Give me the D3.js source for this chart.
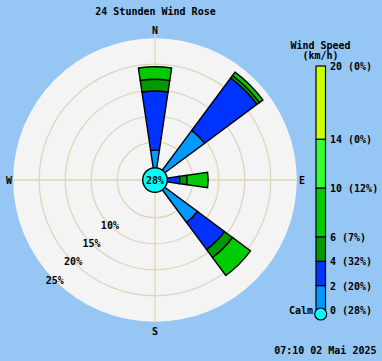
<!DOCTYPE html>
<html><head><meta charset="utf-8">
<script src="https://cdn.jsdelivr.net/npm/d3@7"></script>
<style>
html,body{margin:0;padding:0;background:#96c7f4;}
svg{display:block;}
text{font-family:"DejaVu Sans Mono","Liberation Mono",monospace;font-weight:bold;font-size:10px;fill:#000;}
</style></head>
<body>
<svg id="chart" width="382" height="361"></svg>
<script>
// ---- data ----
const title = "24 Stunden Wind Rose";
const dateLabel = "07:10 02 Mai 2025";
const directions = ["N","NNE","NE","ENE","E","ESE","SE","SSE","S","SSW","SW","WSW","W","WNW","NW","NNW"];
const speedClasses = ["0-2","2-4","4-6","6-10","10-14","14-20"];
const band0_2   = [3.5, 0, 9.6, 0, 0,    0, 7.9, 0, 0,0,0,0,0,0,0,0];
const band2_4   = [11.35,0,12.55,0,2.5,  0, 6.5, 0, 0,0,0,0,0,0,0,0];
const band4_6   = [2.25,0, 0.6, 0, 1.4,  0, 1.9, 0, 0,0,0,0,0,0,0,0];
const band6_10  = [2.4, 0, 0.8, 0, 4.05, 0, 4.3, 0, 0,0,0,0,0,0,0,0];
const band10_14 = [0,0,0,0,0,0,0,0,0,0,0,0,0,0,0,0];
const band14_20 = [0,0,0,0,0,0,0,0,0,0,0,0,0,0,0,0];
const calmPct = 28;
const ringValues = [5,10,15,20,25];
const ringLabels = ["","10%","15%","20%","25%"];
const compassLabels = ["N","E","S","W"];
const speedTicks = [0,2,4,6,10,14,20];
const speedTickPct = [28,20,32,7,12,0,0];
const bandColors = ["#0099ff","#0033ff","#009900","#00cc00","#33ff33","#ccff00"];

// ---- drawing ----
const svg = d3.select("#chart");
const cx = 155, cy = 180;
const r = d3.scaleLinear().domain([0,25]).range([11.8,141.8]);
const ang = d3.scaleBand().domain(directions).range([0, 2*Math.PI]);
const half = (2*Math.PI/16)*0.375;

svg.append("text").attr("x",155.5).attr("y",11).attr("text-anchor","middle")
  .attr("dominant-baseline","central").text(title);

const g = svg.append("g").attr("transform",`translate(${cx},${cy})`);
g.append("circle").attr("r", r(25)).attr("fill","#f4f4f4");
g.selectAll("circle.ring").data(ringValues.slice(0,-1)).join("circle")
  .attr("class","ring").attr("r",d=>r(d)).attr("fill","none")
  .attr("stroke","#ddd6bb").attr("stroke-width",1.3);
g.append("line").attr("x1",-r(25)).attr("x2",r(25)).attr("stroke","#ddd6bb").attr("stroke-width",1.3);
g.append("line").attr("y1",-r(25)-4).attr("y2",r(25)).attr("stroke","#ddd6bb").attr("stroke-width",1.3);

// petals
const bands = [band0_2,band2_4,band4_6,band6_10,band10_14,band14_20];
const arc = d3.arc();
const segs = [];
directions.forEach((dname,i)=>{
  let cum = 0;
  bands.forEach((b,k)=>{
    const v = b[i];
    if (v > 0) {
      segs.push({dir:dname, inner: cum===0?0:r(cum), outer: r(cum+v), color: bandColors[k]});
    }
    cum += v;
  });
});
g.selectAll("path.seg").data(segs).join("path").attr("class","seg")
  .attr("d", d => {
    const a = (ang(d.dir));
    return arc({innerRadius:d.inner, outerRadius:d.outer, startAngle:a-half, endAngle:a+half});
  })
  .attr("fill", d=>d.color).attr("stroke","#000").attr("stroke-width",1.4)
  .attr("stroke-linejoin","miter");

// ring labels at SW
const sw = 5*Math.PI/4;
g.selectAll("text.rl").data(ringValues.map((v,i)=>({v,l:ringLabels[i]})).filter(d=>d.l)).join("text")
  .attr("class","rl")
  .attr("x",d=>r(d.v)*Math.sin(sw)).attr("y",d=>-r(d.v)*Math.cos(sw))
  .attr("text-anchor","middle").attr("dominant-baseline","central").text(d=>d.l);

// calm circle
g.append("circle").attr("r",12.3).attr("fill","#00ffff").attr("stroke","#000").attr("stroke-width",1.4);
g.append("text").attr("text-anchor","middle").attr("dominant-baseline","central").attr("y",0.5).text(calmPct+"%");

// compass labels
const compPos = [[0,-150],[147,0.5],[0,151],[-146,0]];
compassLabels.forEach((c,i)=>{
  g.append("text").attr("x",compPos[i][0]).attr("y",compPos[i][1])
    .attr("text-anchor","middle").attr("dominant-baseline","central").text(c);
});

// legend
const ly = d3.scaleLinear().domain([0,20]).range([310,66]);
const barX = 316, barW = 9.5;
svg.append("text").attr("x",320.5).attr("y",45).attr("text-anchor","middle").attr("dominant-baseline","central").text("Wind Speed");
svg.append("text").attr("x",320.5).attr("y",55.5).attr("text-anchor","middle").attr("dominant-baseline","central").text("(km/h)");
const lg = svg.append("g");
speedTicks.slice(1).forEach((t,i)=>{
  const lo = speedTicks[i];
  lg.append("rect").attr("x",barX).attr("y",ly(t)).attr("width",barW).attr("height",ly(lo)-ly(t))
    .attr("fill",bandColors[i]).attr("stroke","#000").attr("stroke-width",1.2);
});
lg.selectAll("text.tk").data(speedTicks).join("text").attr("class","tk")
  .attr("x",330).attr("y",d=>ly(d)+0.5).attr("dominant-baseline","central")
  .text((d,i)=>`${d} (${speedTickPct[i]}%)`);
lg.append("circle").attr("cx",320.7).attr("cy",314).attr("r",6).attr("fill","#00ffff").attr("stroke","#000").attr("stroke-width",1.2);
lg.append("text").attr("x",313).attr("y",310).attr("text-anchor","end").attr("dominant-baseline","central").text("Calm");

svg.append("text").attr("x",376.5).attr("y",350.5).attr("text-anchor","end").attr("dominant-baseline","central").text(dateLabel);
</script>
</body></html>
